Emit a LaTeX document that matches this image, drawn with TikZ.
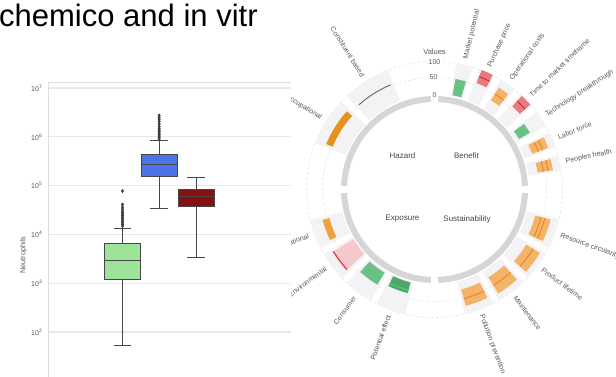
\documentclass[tikz,border=0pt]{standalone}
\usepackage{fontspec}
\setmainfont{Liberation Sans}

% box plot colours
\definecolor{bxgreen}{HTML}{9DE39A}
\definecolor{bxblue}{HTML}{4A74E8}
\definecolor{bxred}{HTML}{871111}
\definecolor{edgec}{HTML}{474747}
\definecolor{gridc}{HTML}{E8E8E8}
\definecolor{framec}{HTML}{DCDCDC}
\definecolor{tickc}{HTML}{555555}
% radial chart colours
\definecolor{wedgec}{HTML}{F3F3F5}
\definecolor{ringc}{HTML}{D6D6D6}
\definecolor{rgridc}{HTML}{E4E4E4}
\definecolor{labc}{HTML}{5A5A5A}
\definecolor{gfill}{HTML}{6FBE88}
\definecolor{gfilldk}{HTML}{4FA56D}
\definecolor{gline}{HTML}{3DDB5C}
\definecolor{rfill}{HTML}{E57B7F}
\definecolor{rline}{HTML}{DD2C35}
\definecolor{ofill}{HTML}{F4B468}
\definecolor{oline}{HTML}{E5892C}
\definecolor{osolid}{HTML}{E8921E}
\definecolor{osolidlt}{HTML}{EDA23F}
\definecolor{pfill}{HTML}{F5C9CC}
\definecolor{cgray}{HTML}{707070}

% annular sector: centre angle, half width, inner radius, outer radius, fill
\newcommand\polbar[5]{\fill[#5] (#1-#2:#3) arc[start angle=#1-#2, end angle=#1+#2, radius=#3] -- (#1+#2:#4) arc[start angle=#1+#2, end angle=#1-#2, radius=#4] -- cycle;}
% value arc: centre angle, half width, radius, colour
\newcommand\polline[4]{\draw[#4, line width=1pt] (#1-#2:#3) arc[start angle=#1-#2, end angle=#1+#2, radius=#3];}
% outlier diamond at x, pixel row y
\newcommand\outl[2]{\fill[edgec!85!black] (#1,-#2+2.1) -- (#1+1.5,-#2) -- (#1,-#2-2.1) -- (#1-1.5,-#2) -- cycle;}

\begin{document}
\begin{tikzpicture}[x=1pt,y=1pt,
  grid/.style={draw=gridc, line width=1.2pt},
  frame/.style={draw=framec, line width=1.2pt},
  boxedge/.style={draw=edgec, line width=0.9pt},
  whisk/.style={draw=edgec, line width=0.9pt},
  tick/.style={font=\fontsize{7}{8}\selectfont, text=tickc, inner sep=0pt, anchor=east},
  cat/.style={font=\fontsize{7.1}{8}\selectfont, text=labc, inner sep=0pt},
  quad/.style={font=\fontsize{8}{9}\selectfont, text=labc!80!black, inner sep=0pt},
  axlab/.style={font=\fontsize{7}{8}\selectfont, text=labc, inner sep=0.8pt, fill=white},
  ring/.style={draw=ringc, line width=6pt},
  rgrid/.style={draw=rgridc, line width=0.6pt, dash pattern=on 2.5pt off 2.5pt},
]
\useasboundingbox (0,0) rectangle (616,-376);
\fill[white] (0,0) rectangle (616,-376);

% ---------- heading ----------
\begin{scope}
  \clip (0,0) rectangle (258,-40);
  \node[anchor=base west, inner sep=0pt, font=\fontsize{31}{36}\selectfont] (title) at (-1,-26.7) {chemico and in vitr};
\end{scope}

% ---------- box plot axes ----------
\draw[frame] (48.3,-82.7) -- (300,-82.7);
\draw[frame] (48.3,-82.7) -- (48.3,-380);
\foreach \y/\e in {88/7,136.8/6,185.6/5,234.4/4,283.2/3,332/2}{
  \draw[grid] (49,-\y) -- (300,-\y);
  \node[tick] (tick\e) at (42.5,-\y) {10\textsuperscript{\e}};
}
\node[rotate=90, font=\fontsize{7.3}{8}\selectfont, text=labc, inner sep=0pt] (ylab) at (23.5,-255) {Neutrophils};

% green box
\draw[whisk] (122.5,-243.7) -- (122.5,-228) (113.8,-228) -- (131.2,-228);
\draw[whisk] (122.5,-279.3) -- (122.5,-345.3) (113.8,-345.3) -- (131.2,-345.3);
\filldraw[fill=bxgreen, boxedge] (104.3,-243.7) rectangle (140.7,-279.3);
\draw[boxedge] (104.3,-260) -- (140.7,-260);
\foreach \y in {191,204.5,207,209,211,212.5,214,215.5,217,218.5,220,221.5,223,224.5,226}{\outl{122.5}{\y}}

% blue box
\draw[whisk] (159.2,-154.7) -- (159.2,-140.7) (150.2,-140.7) -- (168.2,-140.7);
\draw[whisk] (159.2,-176) -- (159.2,-208) (150.2,-208) -- (168.2,-208);
\filldraw[fill=bxblue, boxedge] (141,-154.7) rectangle (177.3,-176);
\draw[boxedge] (141,-164.3) -- (177.3,-164.3);
\foreach \y in {115.5,117.5,119.5,121.5,124,126.5,128.5,130,131.5,133,134.5,136,137.5,139}{\outl{159.2}{\y}}

% dark red box
\draw[whisk] (196.3,-189) -- (196.3,-177.7) (187.3,-177.7) -- (205.3,-177.7);
\draw[whisk] (196.3,-206.7) -- (196.3,-257.7) (187.3,-257.7) -- (205.3,-257.7);
\filldraw[fill=bxred, boxedge] (178.3,-189) rectangle (214.3,-206.7);
\draw[boxedge] (178.3,-196) -- (214.3,-196);

% ---------- radial chart ----------
\begin{scope}
\clip (291,0) rectangle (616,-376);
\fill[white] (291,0) rectangle (616,-376);
\begin{scope}[shift={(434.5,-189.5)}]
  % value grid circles
  \draw[rgrid] (0,0) circle[radius=112];
  \draw[rgrid] (0,0) circle[radius=128];

  % background sectors
  \foreach \a in {76.5,65.75,55,44.25,33.5,22.75,12}{\polbar{\a}{3.7}{95}{128}{wedgec}}
  \foreach \a in {-20,-36.5,-53,-69.5,200.5,217,233.5,250}{\polbar{\a}{6.8}{95}{128}{wedgec}}
  \foreach \a in {122.25,147.75}{\polbar{\a}{11}{95}{128}{wedgec}}

  % inner quadrant ring
  \foreach \q in {0,90,180,270}{
    \draw[ring] (\q+2.3:90.5) arc[start angle=\q+2.3, end angle=\q+87.7, radius=90.5];
  }

  % Hazard
  \polline{122.25}{9.5}{113.5}{cgray}
  \polbar{147.75}{9.5}{110.5}{117.5}{osolid}

  % Benefit
  \polbar{76.5}{2.7}{96}{112.5}{gfill}      \polline{76.5}{2.7}{105}{gline}
  \polbar{65.75}{2.7}{114.5}{128.5}{rfill}  \polline{65.75}{2.7}{121.5}{rline}
  \polbar{55}{2.7}{105.5}{120.5}{ofill}     \polline{55}{2.7}{113}{oline}
  \polbar{44.25}{2.7}{114}{128}{rfill}      \polline{44.25}{2.7}{121}{rline}
  \polbar{33.5}{2.7}{98.5}{111}{gfill}      \polline{33.5}{2.7}{105}{gline}
  \polbar{22.75}{2.7}{104}{121}{ofill}      \polline{22.75}{2.7}{110.5}{oline} \polline{22.75}{2.7}{115}{oline}
  \polbar{12}{2.7}{104.5}{120}{ofill}       \polline{12}{2.7}{110.5}{oline}    \polline{12}{2.7}{115}{oline}

  % Sustainability
  \polbar{-20}{5.5}{104}{120}{ofill}        \polline{-20}{5.5}{110}{oline} \polline{-20}{5.5}{114}{oline}
  \polbar{-36.5}{5.5}{107}{123}{ofill}      \polline{-36.5}{5.5}{115}{oline}
  \polbar{-53}{5.5}{103}{122}{ofill}        \polline{-53}{5.5}{112.5}{oline}
  \polbar{-69.5}{5.5}{103.5}{120.5}{ofill}  \polline{-69.5}{5.5}{113}{oline}

  % Exposure
  \polbar{200.5}{5.3}{109}{116}{osolidlt}
  \polbar{217}{5.5}{95}{120}{pfill}         \polline{217}{5.5}{118.5}{rline}
  \polbar{233.5}{5.5}{97}{111}{gfill}       \polline{233.5}{5.5}{104}{gline}
  \polbar{250}{5.5}{96}{107}{gfilldk}       \polline{250}{5.5}{104}{gline}

  % category labels, right half
  \foreach \a/\t [count=\i] in {76.5/Market potential, 65.75/Purchase price, 55/Operational costs,
      44.25/Time to market timeframe, 33.5/Technology breakthrough, 22.75/Labor force,
      12/Peoples health, -20/Resource circularity, -36.5/Product lifetime,
      -53/Maintenance, -69.5/Pollution prevention}{
    \node[cat, rotate=\a, anchor=west] (catR\i) at (\a:134) {\t};
  }
  % category labels, left half
  \foreach \a/\t [count=\i] in {250/Potential effect, 233.5/Consumer, 216/Environmental,
      200.5/Occupational, 147.75/Occupational, 122.25/Constituent based}{
    \node[cat, rotate=\a-180, anchor=east] (catL\i) at (\a:134) {\t};
  }

  % quadrant names
  \node[quad] (hazard) at (-32,33.5) {Hazard};
  \node[quad] (benefit) at (32,33.5) {Benefit};
  \node[quad] (exposure) at (-32,-29.5) {Exposure};
  \node[quad] (sustain) at (32.5,-29.5) {Sustainability};

  % value axis
  \node[axlab, font=\fontsize{7.5}{8}\selectfont] (valtitle) at (0,137.5) {Values};
  \node[axlab] (v100) at (0,127.5) {100};
  \node[axlab] (v50) at (-1,112.5) {50};
  \node[axlab, fill=none] (v0) at (0,94.5) {0};
\end{scope}
\end{scope}
\end{tikzpicture}
\end{document}
